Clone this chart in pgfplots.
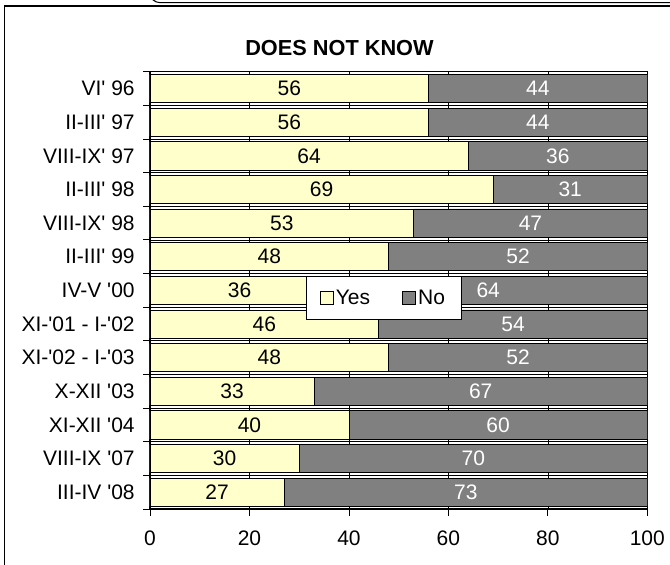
\documentclass[border=0pt]{standalone}
\usepackage{pgfplots}
\pgfplotsset{compat=1.18}
\usepackage{fontspec}
\setmainfont{Liberation Sans}
\definecolor{yescol}{HTML}{FFFFCC}
\definecolor{nocol}{HTML}{808080}
\newcommand{\q}{\textquotesingle}

% share of answers per survey wave, top to bottom
\pgfplotstableread{
idx yes no
0  56 44
1  56 44
2  64 36
3  69 31
4  53 47
5  48 52
6  36 64
7  46 54
8  48 52
9  33 67
10 40 60
11 30 70
12 27 73
}\survey

\begin{document}
\begin{tikzpicture}
\useasboundingbox (0,0) rectangle (502.5pt,423pt);
\draw[line width=1.1pt] (530pt,418.5pt) -- (3.4pt,418.5pt) -- (3.4pt,-10pt);
\draw[line width=0.8pt, rounded corners=7.5pt] (112.5pt,440pt) -- (112.5pt,421pt) -- (530pt,421pt);
\node[font=\fontsize{16.3}{19}\selectfont\bfseries] at (254.6pt,387pt) {DOES NOT KNOW};
\begin{axis}[
  at={(112.5pt,41.25pt)}, anchor=south west,
  scale only axis, width=373pt, height=328pt,
  xbar stacked, bar width=0.84,
  y dir=reverse,
  xmin=0, xmax=100, ymin=-0.5, ymax=12.5,
  xtick={0,20,...,100},
  ytick={0,...,12},
  yticklabels={VI\q{} 96, II-III\q{} 97, VIII-IX\q{} 97, II-III\q{} 98, VIII-IX\q{} 98, II-III\q{} 99, IV-V \q00, XI-\q01 - I-\q02, XI-\q02 - I-\q03, X-XII \q03, XI-XII \q04, VIII-IX \q07, III-IV \q08},
  minor ytick={-0.5,0.5,...,12.5},
  major y tick style={draw=none},
  xmajorgrids, yminorgrids,
  grid style={black, line width=0.5pt},
  tick align=outside, xtick pos=left, ytick pos=left,
  major tick length=5pt, minor tick length=5pt,
  axis line style={line width=0.8pt},
  tick style={black, line width=0.6pt},
  ticklabel style={font=\fontsize{15.75}{19}\selectfont},
  /pgf/number format/assume math mode=true,
  xticklabel style={yshift=-8pt},
  yticklabel style={xshift=-3pt},
  legend columns=2,
  legend style={at={(0.314,0.533)}, anchor=north west, draw=black, line width=0.6pt, fill=white,
    font=\fontsize{15.75}{19}\selectfont, inner xsep=10pt, inner ysep=8pt,
    /tikz/every even column/.append style={column sep=22pt}},
  legend image code/.code={\draw[#1,draw=black,line width=0.5pt] (0pt,-4.75pt) rectangle (9.5pt,4.75pt);},
  nodes near coords,
  every node near coord/.append style={font=\fontsize{15.75}{19}\selectfont},
]
\addplot[fill=yescol, draw=black, line width=0.5pt] table[x=yes,y=idx]{\survey};
\addplot[fill=nocol, draw=black, line width=0.5pt, every node near coord/.append style={text=white}] table[x=no,y=idx]{\survey};
\legend{Yes,No}
\end{axis}
\end{tikzpicture}
\end{document}
